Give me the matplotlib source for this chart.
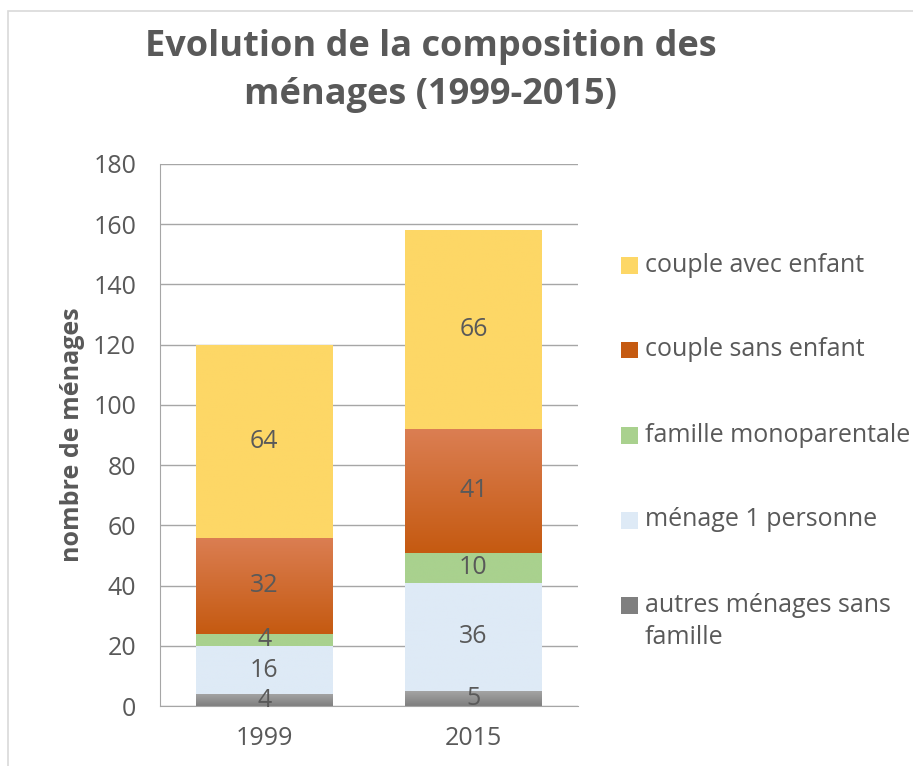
#!/usr/bin/env python3

import numpy as np
import matplotlib
matplotlib.use("Agg")
import matplotlib.pyplot as plt
from matplotlib.colors import LinearSegmentedColormap
from matplotlib.patches import Rectangle

# Data
years = ["1999", "2015"]
series_names = ["autres ménages sans\nfamille", "ménage 1 personne",
                "famille monoparentale", "couple sans enfant", "couple avec enfant"]
autres = [4, 5]
menage_1p = [16, 36]
monoparentale = [4, 10]
couple_sans = [32, 41]
couple_avec = [64, 66]

# (top colour, bottom colour) for each series, Excel-like gradients
colors = [("#A6A6A6", "#7F7F7F"), ("#DEEAF6", "#DEEAF6"), ("#A9D18E", "#A9D18E"),
          ("#DB7E52", "#C55A11"), ("#FDD766", "#FDD766")]

text_grey = "#595959"
fs = 18
plt.rcParams["font.family"] = ["Open Sans", "DejaVu Sans"]

W, H = 913, 766
fig = plt.figure(figsize=(W / 100, H / 100), dpi=100)
ax = fig.add_axes([0.175, 0.078, 0.458, 0.708])

# outer chart border
fig.patches.append(Rectangle((0.009, -0.01), 1.0, 0.995, transform=fig.transFigure,
                             fill=False, edgecolor="#D9D9D9", linewidth=1.2))

x = np.arange(len(years))
all_series = [autres, menage_1p, monoparentale, couple_sans, couple_avec]
bottom = np.zeros(len(years))
for vals, (c_top, c_bot) in zip(all_series, colors):
    bars = ax.bar(x, vals, 0.655, bottom=bottom, color=c_bot, zorder=2)
    cmap = LinearSegmentedColormap.from_list("g", [c_bot, c_top])
    grad = np.linspace(0, 1, 100).reshape(-1, 1)
    for b in bars:
        bx, by = b.get_x(), b.get_y()
        im = ax.imshow(grad, cmap=cmap, origin="lower", aspect="auto",
                       extent=[bx, bx + b.get_width(), by, by + b.get_height()], zorder=2)
        im.set_clip_path(b)
    for b, v in zip(bars, vals):
        ax.text(b.get_x() + b.get_width() / 2, b.get_y() + b.get_height() / 2, str(v),
                ha="center", va="center", fontsize=fs, color=text_grey, zorder=3)
    bottom += np.array(vals)

ax.set_xlim(-0.5, 1.5)
ax.set_ylim(0, 180)
ax.set_yticks(range(0, 181, 20))
ax.set_xticks(x)
ax.set_xticklabels(years)
ax.yaxis.grid(True, color="#A6A6A6", linewidth=1.0, zorder=0)
ax.set_axisbelow(True)
for s in ["top", "right"]:
    ax.spines[s].set_visible(False)
ax.spines["bottom"].set_color("#A6A6A6")
ax.spines["left"].set_color("#A6A6A6")
ax.tick_params(axis="both", length=0, labelsize=fs, colors=text_grey)
ax.tick_params(axis="y", pad=17)
ax.tick_params(axis="x", pad=14)
ax.set_ylabel("nombre de ménages", fontsize=18, fontweight="bold", color=text_grey, labelpad=6)

fig.text(0.472, 0.907, "Evolution de la composition des\nménages (1999-2015)",
         ha="center", va="center", fontsize=26, fontweight="bold", color=text_grey,
         linespacing=1.45)

# legend drawn by hand, reverse stacking order, one entry every 85 px
for i, (name, (c_top, c_bot)) in enumerate(zip(series_names[::-1], colors[::-1])):
    yc = 265 + 85 * i
    sq = 17
    fig.patches.append(Rectangle((621 / W, 1 - (yc + sq / 2) / H), sq / W, sq / H,
                                 transform=fig.transFigure, facecolor=c_bot,
                                 edgecolor="none"))
    for j, line in enumerate(name.split("\n")):
        fig.text(645 / W, 1 - (yc + 32 * j) / H, line, ha="left", va="center",
                 fontsize=fs, color=text_grey)

fig.savefig("out.png", dpi=100)
